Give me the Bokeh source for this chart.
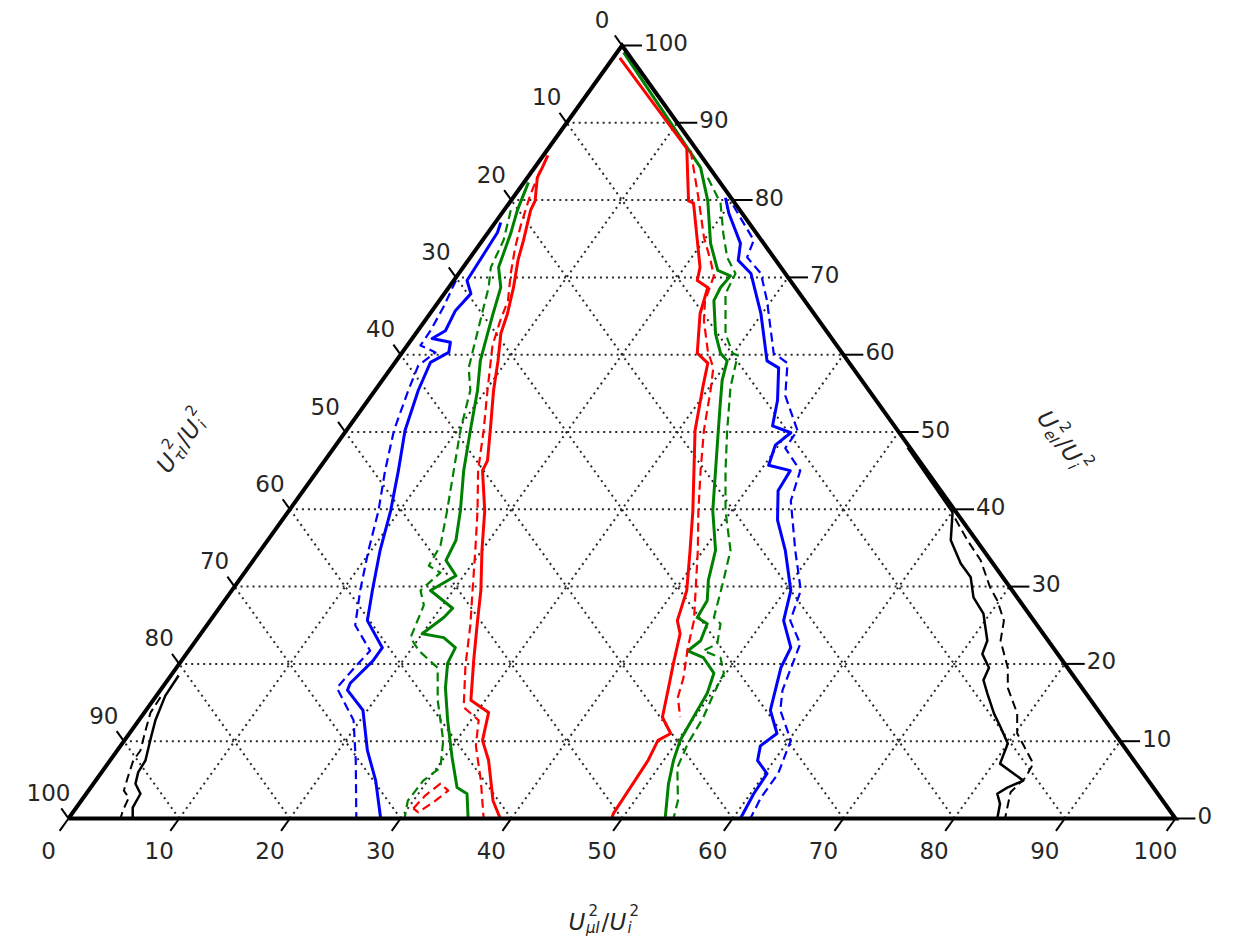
import math
from bokeh.plotting import figure
from bokeh.models import Range1d
from bokeh.embed import file_html
from bokeh.resources import INLINE
from bokeh.core.properties import value

# ---------------- data (ternary coordinates: mu = bottom axis, e = right axis; tau = 100 - mu - e) ----
ticks = [0, 10, 20, 30, 40, 50, 60, 70, 80, 90, 100]
tick_labels = [str(t) for t in ticks]

blue_left_solid_mu = [0.5, 0.85, 1.2, 2.4, 2.1, 2.5, 1.8, 3.7, 4.2, 3.2, 3.9, 5.3, 7.3, 9.2, 10.8, 12.7, 14.2, 17.3, 17.3, 16.7, 16.9, 19.6, 22.6, 25.3, 28.2]
blue_left_solid_e = [77.1, 75.8, 69.6, 67.9, 65.7, 63.1, 62.1, 61.6, 60.3, 59.0, 55.4, 50.2, 45.0, 39.8, 34.7, 29.5, 25.6, 22.1, 20.4, 17.5, 16.6, 14.0, 8.8, 4.9, 0]
blue_left_dashed_mu = [0.2, 0.8, 1.15, 1.2, 3.0, 2.3, 3.0, 4.3, 6.1, 8.1, 9.75, 11.6, 13.4, 16.4, 16.1, 15.8, 19.4, 22.2, 26.0]
blue_left_dashed_e = [69.6, 66.1, 63.1, 61.2, 60.3, 58.6, 55.4, 50.2, 45.0, 39.8, 34.7, 29.5, 25.0, 21.7, 19.8, 16.9, 12.7, 7.5, 0]
blue_right_solid_mu = [19.2, 20.5, 23.5, 24.4, 26.4, 29.9, 33.5, 35.0, 37.0, 38.2, 40.3, 39.7, 40.4, 42.7, 42.9, 44.75, 47.4, 50.5, 51.8, 54.2, 54.6, 56.4, 58.5, 57.8, 58.5, 60.2, 60.3, 60.7]
blue_right_solid_e = [80.3, 78.3, 74.4, 72.2, 70.5, 65.3, 59.2, 58.3, 54.1, 50.8, 49.9, 48.3, 45.7, 45.0, 42.4, 38.6, 34.7, 29.5, 25.6, 22.1, 19.5, 14.0, 11.0, 9.4, 7.5, 5.8, 3.2, 0]
blue_right_dashed_mu = [20.4, 24.5, 25.0, 27.3, 29.6, 33.6, 35.5, 37.4, 40.75, 40.8, 43.6, 44.7, 48.3, 51.4, 52.4, 54.8, 56.2, 57.3, 60.2, 61.2, 61.2, 61.6]
blue_right_dashed_e = [79.3, 74.8, 72.6, 70.5, 67.0, 60.2, 58.9, 54.7, 50.2, 47.9, 45.0, 41.1, 34.7, 29.5, 25.6, 22.6, 16.6, 14.0, 10.1, 5.8, 2.7, 0]

green_left_solid_mu = [0.4, 1.2, 2.1, 3.2, 4.7, 5.7, 6.5, 7.6, 9.25, 11.2, 13.2, 15.5, 17.0, 17.4, 19.3, 17.95, 21.1, 20.9, 20.0, 22.2, 23.9, 24.2, 25.6, 27.9, 30.7, 33.1, 34.4, 36.1]
green_left_solid_e = [82.3, 78.7, 75.7, 71.3, 68.7, 65.3, 62.7, 59.2, 55.4, 50.2, 45.0, 39.8, 36.0, 33.4, 31.4, 29.5, 27.2, 26.0, 23.9, 23.4, 22.1, 20.1, 16.9, 12.7, 7.9, 4.0, 3.2, 0]
green_left_dashed_mu = [0.6, 1.9, 2.5, 3.6, 5.0, 7.0, 8.6, 10.3, 12.3, 14.3, 15.95, 16.2, 17.7, 17.05, 18.3, 19.2, 20.8, 23.6, 25.7, 28.8, 30.3, 29.6, 29.5, 30.35]
green_left_dashed_e = [78.7, 74.8, 71.3, 68.7, 64.4, 58.3, 55.4, 50.2, 45.0, 39.8, 35.3, 32.7, 31.8, 29.5, 27.6, 23.4, 21.7, 19.5, 15.3, 10.1, 6.6, 4.9, 2.3, 0]
green_right_solid_mu = [0.6, 15.0, 17.8, 20.8, 23.2, 24.7, 24.55, 24.8, 27.1, 28.8, 29.9, 30.7, 31.85, 33.6, 35.95, 38.3, 41.1, 42.4, 43.6, 43.8, 45.1, 45.6, 45.1, 46.96, 48.9, 49.6, 49.9, 50.2, 50.9, 51.95, 53.9]
green_right_solid_e = [99.1, 84.2, 79.9, 74.4, 70.9, 70.2, 68.7, 67.0, 62.7, 60.2, 59.2, 56.7, 54.1, 50.2, 45.0, 39.8, 34.7, 30.8, 28.2, 26.0, 25.2, 23.0, 21.7, 20.8, 18.8, 16.2, 13.1, 10.1, 7.5, 4.5, 0]
green_right_dashed_mu = [16.3, 19.1, 21.3, 23.2, 25.0, 25.4, 28.0, 29.9, 30.5, 31.9, 34.4, 36.85, 39.45, 42.45, 44.0, 45.3, 46.3, 47.3, 46.5, 48.5, 49.8, 50.2, 50.8, 51.1, 51.7, 53.9, 54.65]
green_right_dashed_e = [82.9, 79.6, 75.7, 72.6, 70.5, 67.9, 62.7, 60.2, 59.9, 55.8, 50.2, 45.0, 39.8, 34.7, 30.1, 26.0, 25.2, 22.6, 21.7, 20.8, 18.8, 16.2, 13.1, 9.7, 6.6, 2.3, 0]

red_left_solid_mu = [0.4, 0.7, 0.9, 2.2, 2.4, 3.7, 4.5, 5.85, 7.0, 7.7, 9.2, 10.7, 13.0, 14.7, 14.9, 17.7, 20.0, 22.5, 24.15, 26.4, 28.7, 31.1, 32.35, 34.2, 37.2, 39.0]
red_left_solid_e = [85.8, 84.2, 82.9, 79.9, 78.7, 74.8, 72.2, 68.7, 65.3, 62.7, 59.2, 55.4, 50.2, 46.3, 45.0, 39.8, 34.7, 29.5, 25.6, 20.4, 15.3, 13.7, 10.1, 7.5, 2.3, 0]
red_left_dashed_mu = [0.7, 1.4, 2.5, 3.4, 4.7, 6.2, 6.8, 7.7, 10.15, 12.4, 14.5, 17.05, 19.4, 21.75, 23.8, 25.96, 28.5, 30.7, 32.1, 34.8, 37.5]
red_left_dashed_e = [83.8, 80.6, 76.7, 73.9, 70.5, 67.0, 64.4, 61.2, 55.4, 50.2, 45.0, 39.8, 34.7, 29.5, 25.0, 19.8, 14.4, 12.7, 9.4, 4.9, 0]
red_loop_dashed_mu = [30.5, 30.75, 31.35, 32.5, 32.0, 31.2, 30.5]
red_loop_dashed_e = [1.3, 3.0, 4.5, 3.6, 2.3, 0.8, 1.3]
red_right_solid_mu = [0.6, 12.5, 16.06, 16.66, 21.4, 22.0, 23.4, 24.4, 26.7, 28.3, 29.4, 31.5, 34.0, 36.5, 38.8, 41.1, 42.2, 43.3, 44.6, 45.75, 47.1, 48.9, 48.2, 48.6, 48.9, 49.1]
red_right_solid_e = [98.4, 86.7, 79.9, 79.6, 71.3, 69.6, 68.7, 65.3, 60.2, 58.9, 55.8, 50.2, 45.0, 39.8, 34.7, 29.5, 25.6, 23.9, 20.1, 16.9, 13.1, 11.0, 10.1, 7.5, 0.6, 0]
red_right_dashed_mu = [13.0, 17.0, 19.8, 21.9, 23.2, 24.0, 25.2, 27.5, 29.1, 30.3, 32.3, 34.6, 37.0, 39.5, 41.9, 43.7, 44.9, 46.45, 47.2, 48.7]
red_right_dashed_e = [86.4, 79.9, 75.2, 72.2, 70.2, 67.0, 64.4, 60.5, 58.3, 55.4, 50.2, 45.0, 39.8, 34.7, 29.5, 25.6, 22.1, 18.2, 15.7, 13.1]

black_left_solid_mu = [0.7, 0.8, 1.5, 2.2, 3.2, 3.3, 3.8, 4.9, 5.1, 5.8]
black_left_solid_e = [18.5, 15.9, 12.7, 10.5, 7.5, 6.0, 4.5, 3.2, 1.4, 0]
black_left_dashed_mu = [0.46, 0.56, 1.26, 2.1, 2.1, 2.7, 3.2, 4.1, 4.4, 4.7]
black_left_dashed_e = [15.7, 13.7, 11.4, 8.8, 7.5, 5.3, 3.6, 2.7, 1.0, 0]
black_right_solid_mu = [51.8, 60.06, 61.7, 64.1, 65.9, 67.45, 69.4, 71.5, 71.9, 73.4, 73.7, 74.9, 76.8, 78.3, 80.0, 80.6, 82.5, 83.8, 82.8, 82.3, 83.2, 83.9]
black_right_solid_e = [48.0, 39.6, 36.0, 33.0, 31.2, 28.6, 26.5, 23.0, 21.3, 19.5, 17.9, 16.2, 13.6, 11.8, 9.7, 7.1, 5.8, 4.9, 4.0, 3.2, 1.9, 0]
black_right_dashed_mu = [60.7, 63.2, 65.7, 68.3, 69.8, 71.7, 72.7, 75.1, 76.4, 78.9, 80.2, 81.6, 83.6, 83.8, 83.4, 84.6]
black_right_dashed_e = [38.8, 36.0, 33.4, 29.9, 28.2, 25.6, 23.0, 19.5, 16.9, 13.6, 11.0, 9.4, 7.1, 5.3, 3.4, 0]

# ---------------- geometry ----------------
S3 = math.sqrt(3) / 2.0
W, H = 1237, 940
SX = 11.07            # px per x unit
SY = 773.0 / (100 * S3)  # px per y unit
X0 = -68.0 / SX
X1 = X0 + W / SX
Y0 = -(H - 818.0) / SY
Y1 = Y0 + H / SY


def cart(mu, e):
    return [m + ee / 2.0 for m, ee in zip(mu, e)], [ee * S3 for ee in e]


def px2data(px, py):
    return X0 + px / SX, Y1 - py / SY


p = figure(width=W, height=H, x_range=Range1d(X0, X1), y_range=Range1d(Y0, Y1),
           output_backend="svg", toolbar_location=None, min_border=0,
           background_fill_color="white", border_fill_color="white")
p.axis.visible = False
p.grid.visible = False
p.outline_line_color = None

FONT = value("DejaVu Sans")
GRID_COLOR = "#2a2a2a"

# grid lines
for k in ticks[1:-1]:
    for mu, e in (([0, 100 - k], [k, k]), ([k, k], [0, 100 - k]), ([100 - k, 0], [0, 100 - k])):
        xs, ys = cart(mu, e)
        p.line(xs, ys, line_color=GRID_COLOR, line_width=2.0, line_dash="2 4")

# curves
DASH = "9 5"
curves = [
    (blue_left_solid_mu, blue_left_solid_e, "#0000ff", 3.0, "solid"),
    (blue_left_dashed_mu, blue_left_dashed_e, "#0000ff", 2.2, DASH),
    (blue_right_solid_mu, blue_right_solid_e, "#0000ff", 3.0, "solid"),
    (blue_right_dashed_mu, blue_right_dashed_e, "#0000ff", 2.2, DASH),
    (green_left_solid_mu, green_left_solid_e, "#008000", 3.0, "solid"),
    (green_left_dashed_mu, green_left_dashed_e, "#008000", 2.2, DASH),
    (green_right_solid_mu, green_right_solid_e, "#008000", 3.0, "solid"),
    (green_right_dashed_mu, green_right_dashed_e, "#008000", 2.2, DASH),
    (red_left_solid_mu, red_left_solid_e, "#ff0000", 3.0, "solid"),
    (red_left_dashed_mu, red_left_dashed_e, "#ff0000", 2.2, DASH),
    (red_loop_dashed_mu, red_loop_dashed_e, "#ff0000", 2.2, DASH),
    (red_right_solid_mu, red_right_solid_e, "#ff0000", 3.0, "solid"),
    (red_right_dashed_mu, red_right_dashed_e, "#ff0000", 2.2, DASH),
    (black_left_solid_mu, black_left_solid_e, "#000000", 2.5, "solid"),
    (black_left_dashed_mu, black_left_dashed_e, "#000000", 2.0, DASH),
    (black_right_solid_mu, black_right_solid_e, "#000000", 2.5, "solid"),
    (black_right_dashed_mu, black_right_dashed_e, "#000000", 2.0, DASH),
]
for mu, e, col, lw, dash in curves:
    xs, ys = cart(mu, e)
    p.line(xs, ys, line_color=col, line_width=lw, line_dash=dash, line_join="round")

# triangle boundary
bx, by = cart([0, 100, 0, 0], [0, 0, 100, 0])
p.line(bx, by, line_color="black", line_width=4, line_join="miter")

# ticks
LB, LL, LR = 1.6, 1.3, 1.8
for k in ticks:
    xs, ys = cart([k, k], [0, -LB])                       # bottom axis
    p.line(xs, ys, line_color="black", line_width=2)
    xs, ys = cart([0, -LL], [100 - k, 100 - k + LL])      # left axis
    p.line(xs, ys, line_color="black", line_width=2)
    xs, ys = cart([100 - k, 100 - k + LR], [k, k])        # right axis
    p.line(xs, ys, line_color="black", line_width=2)

# tick labels
bxs, bys, lxs, lys, rxs, rys = [], [], [], [], [], []
for k in ticks:
    bxs.append(k - 20 / SX)
    bys.append(0.0 - 32 / SY)
    e = 100 - k
    lxs.append(e / 2.0 - 20 / SX)
    lys.append(e * S3 + 26 / SY)
    rxs.append(100 - k / 2.0 + 22 / SX)
    rys.append(k * S3 + 3 / SY)

TL = dict(text_font=FONT, text_font_size="23px", text_color="#262626", text_baseline="middle")
p.text(bxs, bys, text=tick_labels, text_align="center", **TL)
p.text(lxs, lys, text=tick_labels, text_align="center", **TL)
p.text(rxs, rys, text=tick_labels, text_align="left", **TL)


# axis titles built from pieces (U^2_sub / U^2_i)
def math_title(cpx, cpy, angle_deg, sub):
    th = math.radians(angle_deg)
    cx, cy = px2data(cpx, cpy)
    pieces = [("U", 0, 0, 23, "italic"), ("2", 20, 11.5, 15, "normal"), (sub, 17.5, -6.5, 15, "italic"),
              ("/", 33, 0, 23, "normal"), ("U", 41, 0, 23, "italic"), ("2", 61, 11.5, 15, "normal"),
              ("i", 59, -6.5, 15, "italic")]
    lcx, lcy = 35, 7
    for txt, dx, dy, fs, st in pieces:
        a, b = dx - lcx, dy - lcy
        rx = a * math.cos(th) - b * math.sin(th)
        ry = a * math.sin(th) + b * math.cos(th)
        p.text([cx + rx / SX], [cy + ry / SY], text=[txt], angle=th, text_font=FONT,
               text_font_size=f"{fs}px", text_font_style=st, text_color="#262626",
               text_align="left", text_baseline="alphabetic")


math_title(603, 914, 0, "μI")
math_title(176, 437, 54.4, "τI")
math_title(1068, 437, -54.4, "eI")

open("out.html", "w").write(file_html(p, INLINE))
